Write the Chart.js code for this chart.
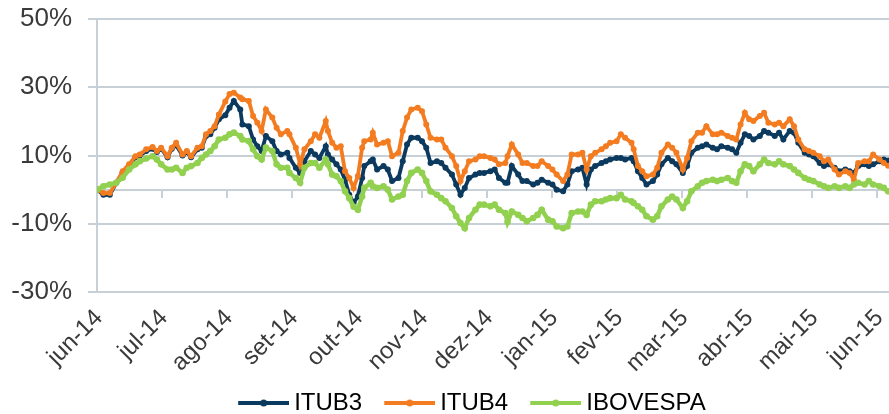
<!DOCTYPE html>
<html>
<head>
<meta charset="utf-8">
<script src="https://cdn.jsdelivr.net/npm/chart.js@4.4.1/dist/chart.umd.min.js"></script>
<style>
    html, body { margin: 0; padding: 0; background: #fff; overflow: hidden; }
    #wrap { width: 944px; height: 425px; }
</style>
</head>
<body>
<div id="wrap"><canvas id="retornoChart" width="944" height="425"></canvas></div>
<script>
// eixo x: dias aproximados desde 01/06/2014
const days = [0, 3, 6, 9, 12, 15, 18, 20, 23, 26,
    28, 30, 33, 35, 37, 40, 42, 44, 47, 49,
    51, 53, 55, 57, 60, 62, 64, 67, 68, 71,
    73, 75, 77, 79, 82, 84, 86, 89, 90, 93,
    95, 97, 100, 102, 104, 107, 108, 110, 112, 114,
    116, 118, 120, 122, 124, 125, 128, 129, 131, 134,
    136, 138, 141, 143, 145, 147, 150, 152, 154, 156,
    159, 161, 163, 166, 168, 170, 172, 174, 177, 179,
    181, 184, 186, 188, 191, 192, 194, 197, 199, 201,
    204, 206, 208, 211, 213, 215, 218, 220, 222, 225,
    227, 229, 231, 233, 236, 238, 240, 243, 245, 247,
    250, 251, 253, 255, 257, 260, 262, 264, 267, 269,
    271, 274, 276, 278, 281, 283, 285, 288, 290, 292,
    295, 297, 299, 301, 303, 305, 307, 310, 312, 314,
    317, 319, 321, 324, 326, 328, 331, 333, 335, 338,
    340, 342, 345, 347, 350, 352, 354, 356, 359, 361,
    363, 366, 368, 370];

// retorno acumulado (%)
const itub3 = [0, -1.5, -1.5, 2, 5, 7, 9.5, 10, 11.3, 12,
    11, 12, 9.5, 12, 13, 10, 11, 9.5, 11.8, 12.3,
    15.7, 16.2, 18.1, 20.6, 21.8, 24, 26, 23.5, 19.1, 18.6,
    14.7, 12.7, 11.3, 15.7, 14.2, 11.3, 10.3, 10.8, 9.3, 6.4,
    4.9, 8.3, 11.3, 10.3, 9.3, 12.7, 10.3, 8.8, 7.4, 5.9,
    2.9, -1.5, -3.9, -2, 3.4, 6.9, 8.3, 8.8, 5.9, 6.9,
    5.9, 2.5, 3.4, 8.3, 13.2, 15.2, 15.2, 14.2, 12.3, 7.8,
    8.3, 7.8, 6.4, 4.4, 1.5, -1.5, 0.5, 3.4, 4.4, 4.9,
    4.9, 5.4, 5.9, 3.4, 2, 2, 6.9, 4.4, 2.5, 2.5,
    1.5, 2, 2.9, 2, 1.5, 0, -0.5, 1.5, 5.4, 5.9,
    6.4, 1.5, 5.9, 6.9, 7.8, 8.3, 8.8, 9.3, 9.3, 8.8,
    9.3, 8.3, 5.4, 3.4, 1.5, 2.5, 4.4, 7.4, 9.3, 8.3,
    7.4, 4.9, 6.9, 10.8, 12.3, 12.7, 13.2, 12.3, 11.8, 12.7,
    12.3, 11.8, 10.8, 13.7, 16.2, 15.7, 14.7, 15.7, 17.2, 16.7,
    15.7, 16.7, 14.7, 17.2, 16.7, 13.7, 10.8, 10.3, 9.8, 7.8,
    6.9, 7.4, 6.4, 5.4, 5.9, 5.4, 4.9, 6.9, 7.4, 6.9,
    7.4, 8.3, 8.8, 8.5];

const itub4 = [0, -1, -1, 2, 5.4, 7.4, 9.8, 10.3, 11.8, 12.5,
    11.3, 12.3, 9.8, 12.3, 13.7, 10.3, 11.3, 9.8, 12.3, 12.7,
    16.2, 17.2, 18.6, 22, 25.8, 28, 28.4, 27, 26.5, 26,
    21.6, 19.6, 17.2, 23.5, 21.1, 18.1, 16.2, 17.2, 16.2, 12.3,
    7.4, 11.8, 14.2, 16.2, 15.2, 20.1, 17.2, 13.7, 12.3, 12.7,
    5.4, 3.4, 0.5, 4, 12.3, 14.2, 14.7, 16.7, 13.2, 13.7,
    14.2, 9.8, 10.8, 17.2, 21.1, 23.5, 24, 23, 19.1, 15.2,
    14.7, 14.7, 12.3, 9.8, 6.9, 2.5, 5.4, 8.3, 8.8, 9.8,
    9.8, 9.3, 8.8, 7.4, 7.8, 9.8, 13.2, 10.3, 7.8, 7.8,
    6.9, 6.9, 8.3, 6.9, 5.9, 4.4, 2.5, 4.4, 10.3, 10.3,
    10.8, 5.9, 9.8, 10.8, 11.8, 12.7, 13.7, 14.2, 16.2, 15.2,
    13.7, 11.8, 6.9, 5.4, 3.9, 4.4, 6.4, 10.8, 13.2, 12.3,
    10.8, 5.9, 9.3, 14.2, 16.7, 16.7, 18.6, 16.2, 16.2, 16.7,
    15.7, 15.2, 14.7, 19.1, 22.5, 20.6, 20.1, 21.6, 22.5, 19.6,
    19.1, 19.6, 18.6, 20.6, 18.6, 14.7, 11.8, 11.3, 10.8, 9.8,
    8.3, 8.8, 5.9, 4.4, 5.4, 4.9, 2.9, 7.8, 8.3, 8.3,
    10.3, 8.8, 7.8, 7];

const ibovespa = [0, 1, 1.5, 2, 3.5, 5.9, 7.4, 8.3, 9.1, 9.8,
    8.8, 7.4, 5.9, 5.9, 6.4, 4.9, 6.4, 6.9, 7.8, 9.3,
    10.3, 11.3, 12.7, 14.7, 15.2, 16.2, 16.7, 15.7, 14.7, 14.2,
    11.8, 9.8, 8.8, 12.3, 11.3, 7.4, 6.4, 6.4, 4.9, 3.4,
    2, 6.4, 7.8, 7.8, 6.4, 8.8, 7.4, 4.4, 3.9, 2.5,
    -0.5, -2.5, -5, -5.9, -2, 0.5, 2, 1, 0.5, 1,
    0, -2.9, -2, -1.5, 2.5, 4.9, 5.9, 4.9, 2.5, -0.5,
    -1.5, -2.5, -3.4, -5.4, -7.8, -9.8, -11.3, -8.3, -5.9, -4.4,
    -4.4, -4.9, -4.4, -5.9, -6.9, -9.5, -6.4, -7.4, -8.3, -9.3,
    -8.3, -7.4, -5.9, -8.8, -9.3, -10.8, -11.3, -10.8, -6.9, -6.4,
    -6.4, -7.4, -4.4, -3.4, -3.4, -2.9, -2.5, -2.5, -1.5, -2.9,
    -3.4, -3.9, -4.9, -5.9, -7.8, -8.8, -7.8, -4.9, -2.9, -2,
    -2.9, -5.4, -3.4, -0.5, 1, 2, 2.5, 2.9, 2.5, 2.9,
    3.4, 2.5, 2, 5.4, 7.4, 6.9, 5.4, 7.4, 8.8, 7.8,
    7.4, 8.3, 7.4, 6.9, 5.9, 4.9, 3.4, 2.9, 2.5, 1.5,
    1, 0.5, 1, 0.5, 1, 0.5, 1.5, 2, 1.5, 2.5,
    1.5, 1, 0.5, -0.5];

// marcas do eixo x (início de cada mês)
const monthTicks = [0, 30.4, 60.8, 91.3, 121.7, 152.1, 182.5, 212.9, 243.3, 273.8, 304.2, 334.6, 365];
const monthLabels = ['jun-14', 'jul-14', 'ago-14', 'set-14', 'out-14', 'nov-14', 'dez-14',
    'jan-15', 'fev-15', 'mar-15', 'abr-15', 'mai-15', 'jun-15'];

const yTicksMin = -30;
const yTicksMax = 50;
const yStep = 20;

const fontFamily = "'Liberation Sans', Arial, sans-serif";
const gridColor = '#c8d0d7';
const xMax = 391;

function toPoints(values) {
    return values.map((v, i) => ({ x: days[i], y: v }));
}

// ícone da legenda: linha com marcador no meio
function legendIcon(color, width) {
    const c = document.createElement('canvas');
    c.width = 58;
    c.height = 14;
    const g = c.getContext('2d');
    g.strokeStyle = color;
    g.lineWidth = width;
    g.beginPath();
    g.moveTo(7, 7);
    g.lineTo(58, 7);
    g.stroke();
    g.fillStyle = color;
    g.beginPath();
    g.arc(32.5, 7, 3.5, 0, Math.PI * 2);
    g.fill();
    return c;
}

function setMonthTicks(scale) {
    scale.ticks = monthTicks.map(v => ({ value: v }));
}

// deixa os rótulos do eixo x descerem até o fim do canvas sem corte
const labelClip = {
    id: 'labelClip',
    afterLayout(chart) {
        chart.scales.x.bottom = chart.height;
    }
};

const ctx = document.getElementById('retornoChart').getContext('2d');
new Chart(ctx, {
    type: 'line',
    data: {
        datasets: [{
            label: 'ITUB3',
            data: toPoints(itub3),
            borderColor: '#0b3a5e',
            backgroundColor: '#0b3a5e',
            borderWidth: 3.8,
            pointRadius: 3,
            pointBorderWidth: 0,
            order: 3
        }, {
            label: 'ITUB4',
            data: toPoints(itub4),
            borderColor: '#f47c20',
            backgroundColor: '#f47c20',
            borderWidth: 3.8,
            pointRadius: 3,
            pointBorderWidth: 0,
            order: 2
        }, {
            label: 'IBOVESPA',
            data: toPoints(ibovespa),
            borderColor: '#92d050',
            backgroundColor: '#92d050',
            borderWidth: 4.5,
            pointRadius: 3.3,
            pointBorderWidth: 0,
            order: 1
        }]
    },
    options: {
        responsive: false,
        animation: false,
        devicePixelRatio: 1,
        elements: { line: { tension: 0 } },
        layout: { padding: { left: 11, right: 11, top: 19, bottom: 0 } },
        scales: {
            x: {
                type: 'linear',
                min: 0,
                max: xMax,
                afterBuildTicks: setMonthTicks,
                afterFit: s => { s.height = 77; },
                ticks: {
                    autoSkip: false,
                    minRotation: 45,
                    maxRotation: 45,
                    padding: 12,
                    labelOffset: 2,
                    color: '#3a3a3a',
                    font: { family: fontFamily, size: 24 },
                    callback: (v, i) => monthLabels[i]
                },
                grid: { display: false, drawTicks: false },
                border: { display: false }
            },
            x0: {
                type: 'linear',
                axis: 'x',
                position: { y: 0 },
                min: 0,
                max: xMax,
                afterBuildTicks: setMonthTicks,
                ticks: { display: false },
                grid: { drawOnChartArea: false, drawTicks: true, tickLength: 7, color: gridColor, lineWidth: 2 },
                border: { color: gridColor, width: 2 }
            },
            y: {
                min: yTicksMin,
                max: yTicksMax,
                afterFit: s => {
                    s.width = 86;
                    s.paddingTop = 0;
                    s.paddingBottom = 0;
                },
                ticks: {
                    stepSize: yStep,
                    padding: 16,
                    color: '#3a3a3a',
                    font: { family: fontFamily, size: 26 },
                    callback: v => v + '%'
                },
                grid: { color: gridColor, lineWidth: 2, tickLength: 9 },
                border: { color: gridColor, width: 2 }
            }
        },
        plugins: {
            tooltip: { enabled: false },
            legend: {
                position: 'bottom',
                labels: {
                    usePointStyle: true,
                    pointStyleWidth: 44,
                    padding: 22,
                    color: '#111',
                    font: { family: fontFamily, size: 24 },
                    generateLabels: chart => chart.data.datasets.map((ds, i) => ({
                        text: ds.label,
                        pointStyle: legendIcon(ds.borderColor, 4),
                        fillStyle: ds.borderColor,
                        strokeStyle: ds.borderColor,
                        lineWidth: 0,
                        hidden: false,
                        datasetIndex: i
                    }))
                }
            }
        }
    },
    plugins: [labelClip]
});
</script>
</body>
</html>
